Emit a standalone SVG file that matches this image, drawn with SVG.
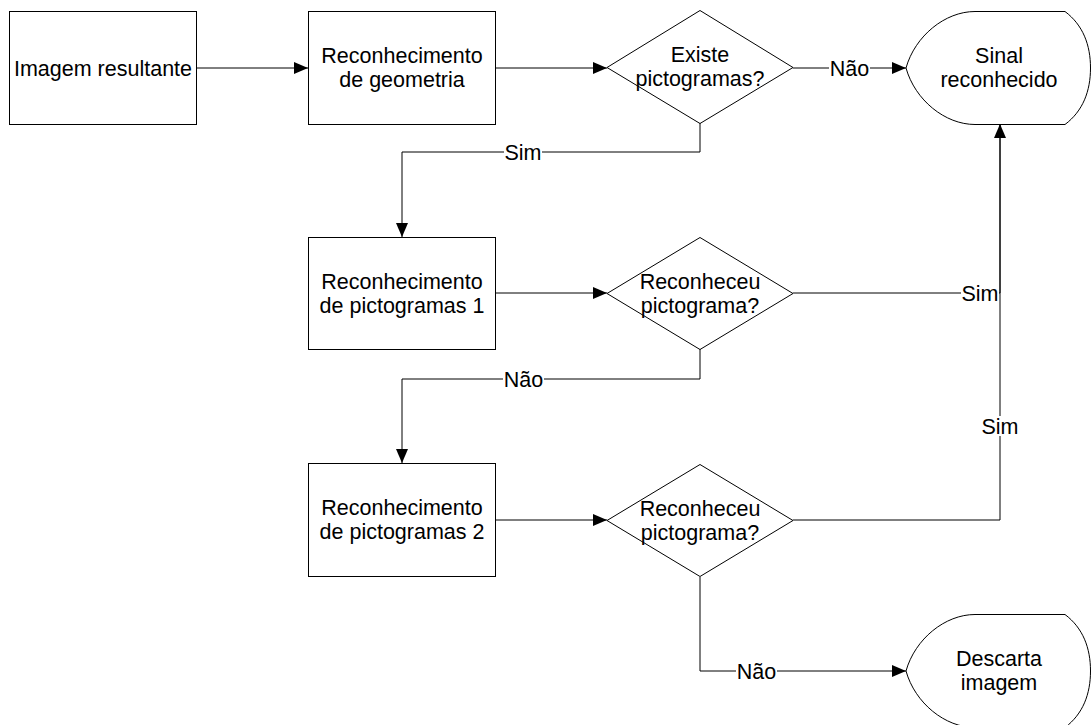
<svg xmlns="http://www.w3.org/2000/svg" width="1091" height="725" viewBox="0 0 1091 725">
<style>
.s{fill:#fff;stroke:#000;stroke-width:1}
.t{font-family:"Liberation Sans",Arial,sans-serif;font-size:21.5px;fill:#000;text-anchor:middle}
.c{fill:none;stroke:#000;stroke-width:1}
.lb{fill:#fff}
</style>
<defs>
<marker id="ah" markerWidth="14" markerHeight="12" refX="14" refY="6" orient="auto" markerUnits="userSpaceOnUse">
<path d="M0,0 L14,6 L0,12 Z" fill="#000"/>
</marker>
</defs>
<rect width="1091" height="725" fill="#fff"/>
<g id="connectors">
<path class="c" d="M197,68 H308" marker-end="url(#ah)"/>
<path class="c" d="M495,68 H607" marker-end="url(#ah)"/>
<path class="c" d="M793,68 H906" marker-end="url(#ah)"/>
<path class="c" d="M700,123 V152 H402 V237" marker-end="url(#ah)"/>
<path class="c" d="M495,293 H607" marker-end="url(#ah)"/>
<path class="c" d="M793,293 H1000 V124"/>
<path class="c" d="M700,349 V379 H402 V463" marker-end="url(#ah)"/>
<path class="c" d="M495,520 H607" marker-end="url(#ah)"/>
<path class="c" d="M793,520 H1000 V124" marker-end="url(#ah)"/>
<path class="c" d="M700,577 V671 H906" marker-end="url(#ah)"/>
<g id="labels">
<rect class="lb" x="829" y="58" width="41" height="20"/>
<text class="t" x="849.5" y="75.5">Não</text>
<rect class="lb" x="504" y="142" width="38" height="20"/>
<text class="t" x="523" y="159.5">Sim</text>
<rect class="lb" x="961" y="283" width="38" height="20"/>
<text class="t" x="980" y="300.5">Sim</text>
<rect class="lb" x="981" y="416" width="38" height="20"/>
<text class="t" x="1000" y="433.5">Sim</text>
<rect class="lb" x="503" y="369" width="41" height="20"/>
<text class="t" x="523.5" y="386.5">Não</text>
<rect class="lb" x="736" y="661" width="41" height="20"/>
<text class="t" x="756.5" y="678.5">Não</text>
</g>
</g>
<g id="n1">
<rect class="s" x="9.5" y="11.5" width="187" height="113"/>
<text class="t" x="103" y="76">Imagem resultante</text>
</g>
<g id="n2">
<rect class="s" x="308.5" y="11.5" width="187" height="113"/>
<text class="t" x="402" y="63">Reconhecimento</text>
<text class="t" x="402" y="87">de geometria</text>
</g>
<g id="n3">
<path class="s" d="M607,67.5 L700,10.5 L793,67.5 L700,123.5 Z"/>
<text class="t" x="700" y="62">Existe</text>
<text class="t" x="700" y="86">pictogramas?</text>
</g>
<g id="n4">
<path class="s" d="M975,11.5 H1065 C1083,25 1090.5,45 1090.5,68 C1090.5,91 1083,111 1065,124.5 H975 C945,124.5 915,100 906,68 C915,36 945,11.5 975,11.5 Z"/>
<text class="t" x="999" y="63">Sinal</text>
<text class="t" x="999" y="87">reconhecido</text>
</g>
<g id="n5">
<rect class="s" x="308.5" y="237.5" width="187" height="112"/>
<text class="t" x="402" y="289">Reconhecimento</text>
<text class="t" x="402" y="313">de pictogramas 1</text>
</g>
<g id="n6">
<path class="s" d="M607,293.5 L700,237.5 L793,293.5 L700,349.5 Z"/>
<text class="t" x="700" y="289">Reconheceu</text>
<text class="t" x="700" y="313">pictograma?</text>
</g>
<g id="n7">
<rect class="s" x="308.5" y="463.5" width="187" height="113"/>
<text class="t" x="402" y="515">Reconhecimento</text>
<text class="t" x="402" y="539">de pictogramas 2</text>
</g>
<g id="n8">
<path class="s" d="M607,520.5 L700,464.5 L793,520.5 L700,576.5 Z"/>
<text class="t" x="700" y="516">Reconheceu</text>
<text class="t" x="700" y="540">pictograma?</text>
</g>
<g id="n9">
<path class="s" d="M975,614.5 H1065 C1083,628 1090.5,648 1090.5,671 C1090.5,694 1083,714 1065,727.5 H975 C945,727.5 915,703 906,671 C915,639 945,614.5 975,614.5 Z"/>
<text class="t" x="999" y="666">Descarta</text>
<text class="t" x="999" y="690">imagem</text>
</g>
</svg>
